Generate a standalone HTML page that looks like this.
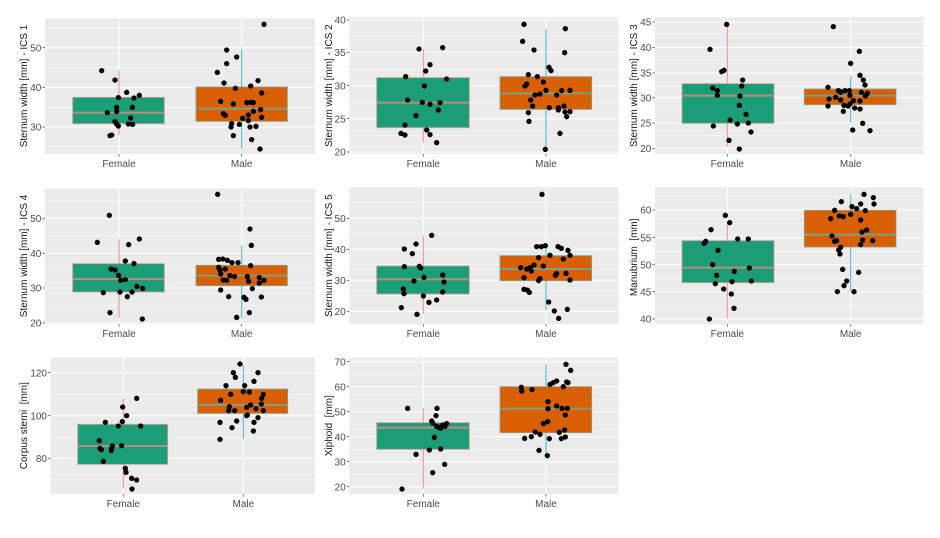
<!DOCTYPE html>
<html><head><meta charset="utf-8"><style>
html,body{margin:0;padding:0;background:#fff;}
svg{display:block;}
.bg{fill:#EBEBEB;}
.mj{stroke:#fff;stroke-width:3.3;}
.mn{stroke:#fff;stroke-width:1.5;}
.tk{stroke:#555;stroke-width:2.4;}
.tl{font-family:"Liberation Sans",sans-serif;font-size:30px;fill:#4D4D4D;}
.ti{font-family:"Liberation Sans",sans-serif;font-size:30px;fill:#1a1a1a;}
.wf{stroke:#EC8E86;stroke-width:3;}
.wm{stroke:#3DBCC6;stroke-width:3;}
.bf{fill:#1B9E77;stroke:#CFA08E;stroke-width:2.5;}
.bm{fill:#D95F02;stroke:#7FA58F;stroke-width:2.5;}
.mf{stroke:#B8907A;stroke-width:6;}
.mm{stroke:#7E9F80;stroke-width:6;}
circle{fill:#000;}
</style></head><body>
<svg width="940" height="538" viewBox="0 0 940 538" xmlns="http://www.w3.org/2000/svg">
<rect width="940" height="538" fill="#fff"/>

<!-- Panel 1 -->
<g transform="translate(0,0) scale(0.333333)">
<rect class="bg" x="135" y="55" width="810" height="407"/>
<line class="mn" x1="135" x2="945" y1="84" y2="84"/><line class="mn" x1="135" x2="945" y1="202.5" y2="202.5"/><line class="mn" x1="135" x2="945" y1="321.5" y2="321.5"/><line class="mn" x1="135" x2="945" y1="440.5" y2="440.5"/>
<line class="mj" x1="135" x2="945" y1="143" y2="143"/><line class="mj" x1="135" x2="945" y1="262" y2="262"/><line class="mj" x1="135" x2="945" y1="381" y2="381"/>
<line class="mj" x1="357" x2="357" y1="55" y2="462"/><line class="mj" x1="725" x2="725" y1="55" y2="462"/>
<line class="tk" x1="127" x2="135" y1="143" y2="143"/><line class="tk" x1="127" x2="135" y1="262" y2="262"/><line class="tk" x1="127" x2="135" y1="381" y2="381"/>
<line class="tk" x1="357" x2="357" y1="462" y2="470"/><line class="tk" x1="725" x2="725" y1="462" y2="470"/>
<text class="tl" x="124" y="154" text-anchor="end">50</text><text class="tl" x="124" y="273" text-anchor="end">40</text><text class="tl" x="124" y="392" text-anchor="end">30</text>
<text class="tl" x="357" y="501" text-anchor="middle">Female</text><text class="tl" x="725" y="501" text-anchor="middle">Male</text>
<text class="ti" transform="translate(81,258) rotate(-90)" text-anchor="middle">Sternum width [mm] - ICS 1</text>
<line class="wf" x1="357" x2="357" y1="212" y2="405"/>
<rect class="bf" x="218" y="292" width="275" height="79"/><line class="mf" x1="218" x2="493" y1="338" y2="338"/>
<line class="wm" x1="725" x2="725" y1="148" y2="447"/>
<rect class="bm" x="588" y="261" width="274" height="103"/><line class="mm" x1="588" x2="862" y1="326" y2="326"/>
<g>
<circle cx="305" cy="212" r="8"/><circle cx="345" cy="240" r="8"/><circle cx="355" cy="293" r="8"/><circle cx="380" cy="277" r="8"/><circle cx="418" cy="286" r="8"/><circle cx="402" cy="294" r="8"/><circle cx="322" cy="338" r="8"/><circle cx="350" cy="322" r="8"/><circle cx="350" cy="335" r="8"/><circle cx="397" cy="322" r="8"/><circle cx="392" cy="354" r="8"/><circle cx="345" cy="365" r="8"/><circle cx="350" cy="372" r="8"/><circle cx="355" cy="378" r="8"/><circle cx="385" cy="372" r="8"/><circle cx="398" cy="373" r="8"/><circle cx="335" cy="405" r="8"/><circle cx="330" cy="407" r="8"/>
<circle cx="792" cy="73" r="8"/><circle cx="680" cy="150" r="8"/><circle cx="710" cy="171" r="8"/><circle cx="680" cy="191" r="8"/><circle cx="652" cy="217" r="8"/><circle cx="672" cy="249" r="8"/><circle cx="774" cy="242" r="8"/><circle cx="706" cy="265" r="8"/><circle cx="752" cy="258" r="8"/><circle cx="785" cy="279" r="8"/><circle cx="662" cy="304" r="8"/><circle cx="700" cy="312" r="8"/><circle cx="740" cy="308" r="8"/><circle cx="752" cy="307" r="8"/><circle cx="760" cy="308" r="8"/><circle cx="670" cy="341" r="8"/><circle cx="676" cy="346" r="8"/><circle cx="760" cy="334" r="8"/><circle cx="745" cy="345" r="8"/><circle cx="728" cy="355" r="8"/><circle cx="782" cy="329" r="8"/><circle cx="785" cy="352" r="8"/><circle cx="745" cy="362" r="8"/><circle cx="695" cy="371" r="8"/><circle cx="718" cy="373" r="8"/><circle cx="693" cy="381" r="8"/><circle cx="750" cy="381" r="8"/><circle cx="768" cy="379" r="8"/><circle cx="700" cy="407" r="8"/><circle cx="755" cy="419" r="8"/><circle cx="780" cy="447" r="8"/>
</g>
</g>

<!-- Panel 2 -->
<g transform="translate(310,0) scale(0.333333)">
<rect class="bg" x="118" y="52" width="807" height="410"/>
<line class="mn" x1="118" x2="925" y1="108.5" y2="108.5"/><line class="mn" x1="118" x2="925" y1="207" y2="207"/><line class="mn" x1="118" x2="925" y1="306.5" y2="306.5"/><line class="mn" x1="118" x2="925" y1="406" y2="406"/>
<line class="mj" x1="118" x2="925" y1="60" y2="60"/><line class="mj" x1="118" x2="925" y1="157" y2="157"/><line class="mj" x1="118" x2="925" y1="257" y2="257"/><line class="mj" x1="118" x2="925" y1="356" y2="356"/><line class="mj" x1="118" x2="925" y1="456" y2="456"/>
<line class="mj" x1="340" x2="340" y1="52" y2="462"/><line class="mj" x1="708" x2="708" y1="52" y2="462"/>
<line class="tk" x1="110" x2="118" y1="60" y2="60"/><line class="tk" x1="110" x2="118" y1="157" y2="157"/><line class="tk" x1="110" x2="118" y1="257" y2="257"/><line class="tk" x1="110" x2="118" y1="356" y2="356"/><line class="tk" x1="110" x2="118" y1="456" y2="456"/>
<line class="tk" x1="340" x2="340" y1="462" y2="470"/><line class="tk" x1="708" x2="708" y1="462" y2="470"/>
<text class="tl" x="107" y="71" text-anchor="end">40</text><text class="tl" x="107" y="168" text-anchor="end">35</text><text class="tl" x="107" y="268" text-anchor="end">30</text><text class="tl" x="107" y="367" text-anchor="end">25</text><text class="tl" x="107" y="467" text-anchor="end">20</text>
<text class="tl" x="340" y="501" text-anchor="middle">Female</text><text class="tl" x="708" y="501" text-anchor="middle">Male</text>
<text class="ti" transform="translate(66,257) rotate(-90)" text-anchor="middle">Sternum width [mm] - ICS 2</text>
<line class="wf" x1="340" x2="340" y1="147" y2="428"/>
<rect class="bf" x="200" y="233" width="278" height="150"/><line class="mf" x1="200" x2="478" y1="308" y2="308"/>
<line class="wm" x1="708" x2="708" y1="88" y2="448"/>
<rect class="bm" x="570" y="230" width="275" height="98"/><line class="mm" x1="570" x2="845" y1="280" y2="280"/>
<circle cx="327" cy="147" r="8"/><circle cx="398" cy="143" r="8"/><circle cx="360" cy="194" r="8"/><circle cx="347" cy="213" r="8"/><circle cx="287" cy="230" r="8"/><circle cx="410" cy="237" r="8"/><circle cx="343" cy="258" r="8"/><circle cx="293" cy="300" r="8"/><circle cx="337" cy="307" r="8"/><circle cx="360" cy="313" r="8"/><circle cx="390" cy="308" r="8"/><circle cx="385" cy="330" r="8"/><circle cx="318" cy="347" r="8"/><circle cx="285" cy="375" r="8"/><circle cx="350" cy="390" r="8"/><circle cx="273" cy="400" r="8"/><circle cx="285" cy="405" r="8"/><circle cx="360" cy="404" r="8"/><circle cx="380" cy="428" r="8"/>
<circle cx="642" cy="73" r="8"/><circle cx="766" cy="86" r="8"/><circle cx="638" cy="124" r="8"/><circle cx="672" cy="150" r="8"/><circle cx="764" cy="158" r="8"/><circle cx="717" cy="202" r="8"/><circle cx="723" cy="212" r="8"/><circle cx="655" cy="224" r="8"/><circle cx="682" cy="230" r="8"/><circle cx="700" cy="246" r="8"/><circle cx="650" cy="252" r="8"/><circle cx="645" cy="258" r="8"/><circle cx="675" cy="285" r="8"/><circle cx="690" cy="282" r="8"/><circle cx="708" cy="271" r="8"/><circle cx="740" cy="285" r="8"/><circle cx="755" cy="272" r="8"/><circle cx="780" cy="271" r="8"/><circle cx="662" cy="300" r="8"/><circle cx="668" cy="318" r="8"/><circle cx="718" cy="323" r="8"/><circle cx="745" cy="323" r="8"/><circle cx="745" cy="330" r="8"/><circle cx="762" cy="318" r="8"/><circle cx="765" cy="336" r="8"/><circle cx="780" cy="335" r="8"/><circle cx="770" cy="350" r="8"/><circle cx="655" cy="338" r="8"/><circle cx="657" cy="364" r="8"/><circle cx="750" cy="400" r="8"/><circle cx="706" cy="448" r="8"/>
</g>

<!-- Panel 3 -->
<g transform="translate(620,0) scale(0.333333)">
<rect class="bg" x="105" y="52" width="805" height="410"/>
<line class="mn" x1="105" x2="910" y1="104" y2="104"/><line class="mn" x1="105" x2="910" y1="180.5" y2="180.5"/><line class="mn" x1="105" x2="910" y1="256" y2="256"/><line class="mn" x1="105" x2="910" y1="331" y2="331"/><line class="mn" x1="105" x2="910" y1="407" y2="407"/>
<line class="mj" x1="105" x2="910" y1="66" y2="66"/><line class="mj" x1="105" x2="910" y1="142" y2="142"/><line class="mj" x1="105" x2="910" y1="219" y2="219"/><line class="mj" x1="105" x2="910" y1="293" y2="293"/><line class="mj" x1="105" x2="910" y1="369" y2="369"/><line class="mj" x1="105" x2="910" y1="445" y2="445"/>
<line class="mj" x1="322" x2="322" y1="52" y2="462"/><line class="mj" x1="692" x2="692" y1="52" y2="462"/>
<line class="tk" x1="97" x2="105" y1="66" y2="66"/><line class="tk" x1="97" x2="105" y1="142" y2="142"/><line class="tk" x1="97" x2="105" y1="219" y2="219"/><line class="tk" x1="97" x2="105" y1="293" y2="293"/><line class="tk" x1="97" x2="105" y1="369" y2="369"/><line class="tk" x1="97" x2="105" y1="445" y2="445"/>
<line class="tk" x1="322" x2="322" y1="462" y2="470"/><line class="tk" x1="692" x2="692" y1="462" y2="470"/>
<text class="tl" x="94" y="77" text-anchor="end">45</text><text class="tl" x="94" y="153" text-anchor="end">40</text><text class="tl" x="94" y="230" text-anchor="end">35</text><text class="tl" x="94" y="304" text-anchor="end">30</text><text class="tl" x="94" y="380" text-anchor="end">25</text><text class="tl" x="94" y="456" text-anchor="end">20</text>
<text class="tl" x="322" y="501" text-anchor="middle">Female</text><text class="tl" x="692" y="501" text-anchor="middle">Male</text>
<text class="ti" transform="translate(51,257) rotate(-90)" text-anchor="middle">Sternum width [mm] - ICS 3</text>
<line class="wf" x1="322" x2="322" y1="75" y2="440"/>
<rect class="bf" x="186" y="251" width="276" height="119"/><line class="mf" x1="186" x2="462" y1="287" y2="287"/>
<line class="wm" x1="692" x2="692" y1="228" y2="368"/>
<rect class="bm" x="553" y="267" width="275" height="47"/><line class="mm" x1="553" x2="828" y1="287" y2="287"/>
<circle cx="320" cy="73" r="8"/><circle cx="270" cy="148" r="8"/><circle cx="312" cy="211" r="8"/><circle cx="305" cy="215" r="8"/><circle cx="368" cy="240" r="8"/><circle cx="365" cy="258" r="8"/><circle cx="278" cy="264" r="8"/><circle cx="292" cy="272" r="8"/><circle cx="292" cy="286" r="8"/><circle cx="360" cy="288" r="8"/><circle cx="358" cy="316" r="8"/><circle cx="378" cy="343" r="8"/><circle cx="330" cy="360" r="8"/><circle cx="352" cy="372" r="8"/><circle cx="385" cy="369" r="8"/><circle cx="280" cy="378" r="8"/><circle cx="393" cy="396" r="8"/><circle cx="327" cy="421" r="8"/><circle cx="358" cy="447" r="8"/>
<circle cx="640" cy="80" r="8"/><circle cx="718" cy="154" r="8"/><circle cx="692" cy="190" r="8"/><circle cx="720" cy="226" r="8"/><circle cx="730" cy="240" r="8"/><circle cx="735" cy="255" r="8"/><circle cx="624" cy="262" r="8"/><circle cx="655" cy="272" r="8"/><circle cx="662" cy="277" r="8"/><circle cx="675" cy="272" r="8"/><circle cx="688" cy="272" r="8"/><circle cx="690" cy="286" r="8"/><circle cx="742" cy="280" r="8"/><circle cx="736" cy="288" r="8"/><circle cx="724" cy="277" r="8"/><circle cx="647" cy="292" r="8"/><circle cx="627" cy="297" r="8"/><circle cx="662" cy="300" r="8"/><circle cx="700" cy="302" r="8"/><circle cx="720" cy="303" r="8"/><circle cx="672" cy="316" r="8"/><circle cx="690" cy="312" r="8"/><circle cx="684" cy="318" r="8"/><circle cx="670" cy="334" r="8"/><circle cx="704" cy="324" r="8"/><circle cx="720" cy="327" r="8"/><circle cx="698" cy="390" r="8"/><circle cx="728" cy="370" r="8"/><circle cx="750" cy="392" r="8"/><circle cx="624" cy="318" r="8"/>
</g>

<!-- Panel 4 -->
<g transform="translate(0,170) scale(0.333333)">
<rect class="bg" x="135" y="55" width="810" height="407"/>
<line class="mn" x1="135" x2="945" y1="93" y2="93"/><line class="mn" x1="135" x2="945" y1="197.5" y2="197.5"/><line class="mn" x1="135" x2="945" y1="302" y2="302"/><line class="mn" x1="135" x2="945" y1="406.5" y2="406.5"/>
<line class="mj" x1="135" x2="945" y1="145" y2="145"/><line class="mj" x1="135" x2="945" y1="250" y2="250"/><line class="mj" x1="135" x2="945" y1="354" y2="354"/><line class="mj" x1="135" x2="945" y1="459" y2="459"/>
<line class="mj" x1="357" x2="357" y1="55" y2="462"/><line class="mj" x1="725" x2="725" y1="55" y2="462"/>
<line class="tk" x1="127" x2="135" y1="145" y2="145"/><line class="tk" x1="127" x2="135" y1="250" y2="250"/><line class="tk" x1="127" x2="135" y1="354" y2="354"/><line class="tk" x1="127" x2="135" y1="459" y2="459"/>
<line class="tk" x1="357" x2="357" y1="462" y2="470"/><line class="tk" x1="725" x2="725" y1="462" y2="470"/>
<text class="tl" x="124" y="156" text-anchor="end">50</text><text class="tl" x="124" y="261" text-anchor="end">40</text><text class="tl" x="124" y="365" text-anchor="end">30</text><text class="tl" x="124" y="470" text-anchor="end">20</text>
<text class="tl" x="357" y="501" text-anchor="middle">Female</text><text class="tl" x="725" y="501" text-anchor="middle">Male</text>
<text class="ti" transform="translate(81,258) rotate(-90)" text-anchor="middle">Sternum width [mm] - ICS 4</text>
<line class="wf" x1="357" x2="357" y1="208" y2="443"/>
<rect class="bf" x="218" y="281" width="275" height="85"/><line class="mf" x1="218" x2="493" y1="327" y2="327"/>
<line class="wm" x1="725" x2="725" y1="226" y2="445"/>
<rect class="bm" x="588" y="286" width="274" height="61"/><line class="mm" x1="588" x2="862" y1="317" y2="317"/>
<circle cx="328" cy="136" r="8"/><circle cx="292" cy="217" r="8"/><circle cx="418" cy="207" r="8"/><circle cx="386" cy="224" r="8"/><circle cx="376" cy="273" r="8"/><circle cx="402" cy="281" r="8"/><circle cx="333" cy="297" r="8"/><circle cx="345" cy="300" r="8"/><circle cx="356" cy="316" r="8"/><circle cx="362" cy="331" r="8"/><circle cx="376" cy="329" r="8"/><circle cx="411" cy="349" r="8"/><circle cx="428" cy="355" r="8"/><circle cx="310" cy="368" r="8"/><circle cx="360" cy="366" r="8"/><circle cx="382" cy="380" r="8"/><circle cx="396" cy="366" r="8"/><circle cx="330" cy="428" r="8"/><circle cx="427" cy="447" r="8"/>
<circle cx="653" cy="73" r="8"/><circle cx="750" cy="177" r="8"/><circle cx="754" cy="226" r="8"/><circle cx="656" cy="268" r="8"/><circle cx="668" cy="267" r="8"/><circle cx="682" cy="271" r="8"/><circle cx="696" cy="278" r="8"/><circle cx="714" cy="278" r="8"/><circle cx="752" cy="287" r="8"/><circle cx="656" cy="292" r="8"/><circle cx="660" cy="300" r="8"/><circle cx="676" cy="297" r="8"/><circle cx="662" cy="312" r="8"/><circle cx="690" cy="317" r="8"/><circle cx="704" cy="320" r="8"/><circle cx="670" cy="330" r="8"/><circle cx="680" cy="331" r="8"/><circle cx="742" cy="320" r="8"/><circle cx="746" cy="334" r="8"/><circle cx="778" cy="323" r="8"/><circle cx="792" cy="331" r="8"/><circle cx="778" cy="339" r="8"/><circle cx="757" cy="356" r="8"/><circle cx="662" cy="360" r="8"/><circle cx="686" cy="380" r="8"/><circle cx="732" cy="382" r="8"/><circle cx="738" cy="388" r="8"/><circle cx="784" cy="381" r="8"/><circle cx="748" cy="428" r="8"/><circle cx="710" cy="442" r="8"/>
</g>

<!-- Panel 5 -->
<g transform="translate(310,170) scale(0.333333)">
<rect class="bg" x="118" y="52" width="807" height="410"/>
<line class="mn" x1="118" x2="925" y1="98.5" y2="98.5"/><line class="mn" x1="118" x2="925" y1="191.5" y2="191.5"/><line class="mn" x1="118" x2="925" y1="284.5" y2="284.5"/><line class="mn" x1="118" x2="925" y1="377.5" y2="377.5"/>
<line class="mj" x1="118" x2="925" y1="145" y2="145"/><line class="mj" x1="118" x2="925" y1="238" y2="238"/><line class="mj" x1="118" x2="925" y1="331" y2="331"/><line class="mj" x1="118" x2="925" y1="424" y2="424"/>
<line class="mj" x1="340" x2="340" y1="52" y2="462"/><line class="mj" x1="708" x2="708" y1="52" y2="462"/>
<line class="tk" x1="110" x2="118" y1="145" y2="145"/><line class="tk" x1="110" x2="118" y1="238" y2="238"/><line class="tk" x1="110" x2="118" y1="331" y2="331"/><line class="tk" x1="110" x2="118" y1="424" y2="424"/>
<line class="tk" x1="340" x2="340" y1="462" y2="470"/><line class="tk" x1="708" x2="708" y1="462" y2="470"/>
<text class="tl" x="107" y="156" text-anchor="end">50</text><text class="tl" x="107" y="249" text-anchor="end">40</text><text class="tl" x="107" y="342" text-anchor="end">30</text><text class="tl" x="107" y="435" text-anchor="end">20</text>
<text class="tl" x="340" y="501" text-anchor="middle">Female</text><text class="tl" x="708" y="501" text-anchor="middle">Male</text>
<text class="ti" transform="translate(66,257) rotate(-90)" text-anchor="middle">Sternum width [mm] - ICS 5</text>
<line class="wf" x1="340" x2="340" y1="197" y2="432"/>
<rect class="bf" x="200" y="288" width="278" height="84"/><line class="mf" x1="200" x2="478" y1="328" y2="328"/>
<line class="wm" x1="708" x2="708" y1="230" y2="420"/>
<rect class="bm" x="570" y="257" width="275" height="75"/><line class="mm" x1="570" x2="845" y1="297" y2="297"/>
<circle cx="365" cy="196" r="8"/><circle cx="318" cy="222" r="8"/><circle cx="283" cy="237" r="8"/><circle cx="307" cy="251" r="8"/><circle cx="283" cy="290" r="8"/><circle cx="328" cy="289" r="8"/><circle cx="332" cy="294" r="8"/><circle cx="342" cy="322" r="8"/><circle cx="312" cy="333" r="8"/><circle cx="398" cy="315" r="8"/><circle cx="402" cy="336" r="8"/><circle cx="280" cy="357" r="8"/><circle cx="282" cy="371" r="8"/><circle cx="398" cy="366" r="8"/><circle cx="340" cy="378" r="8"/><circle cx="380" cy="390" r="8"/><circle cx="357" cy="397" r="8"/><circle cx="274" cy="413" r="8"/><circle cx="321" cy="433" r="8"/>
<circle cx="696" cy="73" r="8"/><circle cx="680" cy="230" r="8"/><circle cx="694" cy="230" r="8"/><circle cx="706" cy="227" r="8"/><circle cx="744" cy="230" r="8"/><circle cx="754" cy="235" r="8"/><circle cx="774" cy="241" r="8"/><circle cx="720" cy="256" r="8"/><circle cx="686" cy="263" r="8"/><circle cx="760" cy="267" r="8"/><circle cx="780" cy="256" r="8"/><circle cx="632" cy="293" r="8"/><circle cx="650" cy="297" r="8"/><circle cx="660" cy="293" r="8"/><circle cx="664" cy="303" r="8"/><circle cx="672" cy="285" r="8"/><circle cx="700" cy="288" r="8"/><circle cx="642" cy="323" r="8"/><circle cx="690" cy="326" r="8"/><circle cx="686" cy="332" r="8"/><circle cx="740" cy="311" r="8"/><circle cx="736" cy="316" r="8"/><circle cx="768" cy="310" r="8"/><circle cx="780" cy="330" r="8"/><circle cx="642" cy="358" r="8"/><circle cx="652" cy="360" r="8"/><circle cx="658" cy="367" r="8"/><circle cx="716" cy="396" r="8"/><circle cx="733" cy="423" r="8"/><circle cx="772" cy="418" r="8"/><circle cx="746" cy="445" r="8"/>
</g>

<!-- Panel 6 -->
<g transform="translate(620,170) scale(0.333333)">
<rect class="bg" x="105" y="52" width="805" height="410"/>
<line class="mn" x1="105" x2="910" y1="79" y2="79"/><line class="mn" x1="105" x2="910" y1="161.5" y2="161.5"/><line class="mn" x1="105" x2="910" y1="243.5" y2="243.5"/><line class="mn" x1="105" x2="910" y1="324.5" y2="324.5"/><line class="mn" x1="105" x2="910" y1="406" y2="406"/>
<line class="mj" x1="105" x2="910" y1="120" y2="120"/><line class="mj" x1="105" x2="910" y1="203" y2="203"/><line class="mj" x1="105" x2="910" y1="284" y2="284"/><line class="mj" x1="105" x2="910" y1="365" y2="365"/><line class="mj" x1="105" x2="910" y1="447" y2="447"/>
<line class="mj" x1="322" x2="322" y1="52" y2="462"/><line class="mj" x1="692" x2="692" y1="52" y2="462"/>
<line class="tk" x1="97" x2="105" y1="120" y2="120"/><line class="tk" x1="97" x2="105" y1="203" y2="203"/><line class="tk" x1="97" x2="105" y1="284" y2="284"/><line class="tk" x1="97" x2="105" y1="365" y2="365"/><line class="tk" x1="97" x2="105" y1="447" y2="447"/>
<line class="tk" x1="322" x2="322" y1="462" y2="470"/><line class="tk" x1="692" x2="692" y1="462" y2="470"/>
<text class="tl" x="94" y="131" text-anchor="end">60</text><text class="tl" x="94" y="214" text-anchor="end">55</text><text class="tl" x="94" y="295" text-anchor="end">50</text><text class="tl" x="94" y="376" text-anchor="end">45</text><text class="tl" x="94" y="458" text-anchor="end">40</text>
<text class="tl" x="322" y="501" text-anchor="middle">Female</text><text class="tl" x="692" y="501" text-anchor="middle">Male</text>
<text class="ti" transform="translate(51,262) rotate(-90)" text-anchor="middle" xml:space="preserve">Manubrium  [mm]</text>
<line class="wf" x1="322" x2="322" y1="160" y2="446"/>
<rect class="bf" x="186" y="212" width="276" height="126"/><line class="mf" x1="186" x2="462" y1="293" y2="293"/>
<line class="wm" x1="692" x2="692" y1="73" y2="365"/>
<rect class="bm" x="553" y="121" width="275" height="110"/><line class="mm" x1="553" x2="828" y1="194" y2="194"/>
<circle cx="316" cy="136" r="8"/><circle cx="329" cy="158" r="8"/><circle cx="273" cy="179" r="8"/><circle cx="257" cy="214" r="8"/><circle cx="252" cy="220" r="8"/><circle cx="294" cy="241" r="8"/><circle cx="353" cy="207" r="8"/><circle cx="385" cy="207" r="8"/><circle cx="278" cy="284" r="8"/><circle cx="388" cy="294" r="8"/><circle cx="290" cy="316" r="8"/><circle cx="343" cy="304" r="8"/><circle cx="286" cy="341" r="8"/><circle cx="336" cy="335" r="8"/><circle cx="394" cy="333" r="8"/><circle cx="311" cy="357" r="8"/><circle cx="334" cy="372" r="8"/><circle cx="342" cy="415" r="8"/><circle cx="268" cy="447" r="8"/>
<circle cx="732" cy="73" r="8"/><circle cx="760" cy="83" r="8"/><circle cx="762" cy="102" r="8"/><circle cx="664" cy="95" r="8"/><circle cx="696" cy="110" r="8"/><circle cx="722" cy="102" r="8"/><circle cx="710" cy="116" r="8"/><circle cx="736" cy="122" r="8"/><circle cx="644" cy="121" r="8"/><circle cx="692" cy="133" r="8"/><circle cx="658" cy="138" r="8"/><circle cx="670" cy="140" r="8"/><circle cx="632" cy="146" r="8"/><circle cx="722" cy="150" r="8"/><circle cx="740" cy="180" r="8"/><circle cx="726" cy="186" r="8"/><circle cx="636" cy="198" r="8"/><circle cx="650" cy="212" r="8"/><circle cx="644" cy="214" r="8"/><circle cx="728" cy="210" r="8"/><circle cx="758" cy="212" r="8"/><circle cx="722" cy="224" r="8"/><circle cx="662" cy="232" r="8"/><circle cx="656" cy="240" r="8"/><circle cx="660" cy="252" r="8"/><circle cx="668" cy="298" r="8"/><circle cx="716" cy="307" r="8"/><circle cx="680" cy="333" r="8"/><circle cx="672" cy="347" r="8"/><circle cx="652" cy="365" r="8"/><circle cx="702" cy="365" r="8"/>
</g>

<!-- Panel 7 -->
<g transform="translate(0,345) scale(0.333333)">
<rect class="bg" x="152" y="38" width="793" height="409"/>
<line class="mn" x1="152" x2="945" y1="147.5" y2="147.5"/><line class="mn" x1="152" x2="945" y1="276" y2="276"/><line class="mn" x1="152" x2="945" y1="404" y2="404"/>
<line class="mj" x1="152" x2="945" y1="83" y2="83"/><line class="mj" x1="152" x2="945" y1="212" y2="212"/><line class="mj" x1="152" x2="945" y1="340" y2="340"/>
<line class="mj" x1="370" x2="370" y1="38" y2="447"/><line class="mj" x1="730" x2="730" y1="38" y2="447"/>
<line class="tk" x1="144" x2="152" y1="83" y2="83"/><line class="tk" x1="144" x2="152" y1="212" y2="212"/><line class="tk" x1="144" x2="152" y1="340" y2="340"/>
<line class="tk" x1="370" x2="370" y1="447" y2="455"/><line class="tk" x1="730" x2="730" y1="447" y2="455"/>
<text class="tl" x="141" y="94" text-anchor="end">120</text><text class="tl" x="141" y="223" text-anchor="end">100</text><text class="tl" x="141" y="351" text-anchor="end">80</text>
<text class="tl" x="370" y="486" text-anchor="middle">Female</text><text class="tl" x="730" y="486" text-anchor="middle">Male</text>
<text class="ti" transform="translate(81,242) rotate(-90)" text-anchor="middle" xml:space="preserve">Corpus sterni  [mm]</text>
<line class="wf" x1="370" x2="370" y1="160" y2="430"/>
<rect class="bf" x="233" y="238" width="270" height="120"/><line class="mf" x1="233" x2="503" y1="303" y2="303"/>
<line class="wm" x1="730" x2="730" y1="60" y2="282"/>
<rect class="bm" x="593" y="132" width="270" height="73"/><line class="mm" x1="593" x2="863" y1="180" y2="180"/>
<circle cx="410" cy="160" r="8"/><circle cx="368" cy="186" r="8"/><circle cx="380" cy="212" r="8"/><circle cx="316" cy="232" r="8"/><circle cx="367" cy="230" r="8"/><circle cx="355" cy="243" r="8"/><circle cx="422" cy="243" r="8"/><circle cx="298" cy="287" r="8"/><circle cx="337" cy="303" r="8"/><circle cx="300" cy="310" r="8"/><circle cx="335" cy="311" r="8"/><circle cx="365" cy="302" r="8"/><circle cx="304" cy="314" r="8"/><circle cx="334" cy="317" r="8"/><circle cx="310" cy="349" r="8"/><circle cx="376" cy="370" r="8"/><circle cx="378" cy="382" r="8"/><circle cx="395" cy="400" r="8"/><circle cx="410" cy="405" r="8"/><circle cx="396" cy="432" r="8"/>
<circle cx="720" cy="57" r="8"/><circle cx="700" cy="83" r="8"/><circle cx="706" cy="97" r="8"/><circle cx="774" cy="83" r="8"/><circle cx="762" cy="109" r="8"/><circle cx="678" cy="122" r="8"/><circle cx="734" cy="122" r="8"/><circle cx="692" cy="148" r="8"/><circle cx="730" cy="140" r="8"/><circle cx="748" cy="141" r="8"/><circle cx="790" cy="148" r="8"/><circle cx="785" cy="160" r="8"/><circle cx="662" cy="166" r="8"/><circle cx="688" cy="185" r="8"/><circle cx="686" cy="197" r="8"/><circle cx="704" cy="197" r="8"/><circle cx="740" cy="187" r="8"/><circle cx="752" cy="180" r="8"/><circle cx="768" cy="191" r="8"/><circle cx="784" cy="177" r="8"/><circle cx="790" cy="197" r="8"/><circle cx="740" cy="212" r="8"/><circle cx="774" cy="218" r="8"/><circle cx="710" cy="228" r="8"/><circle cx="696" cy="248" r="8"/><circle cx="660" cy="232" r="8"/><circle cx="762" cy="232" r="8"/><circle cx="760" cy="258" r="8"/><circle cx="660" cy="283" r="8"/><circle cx="742" cy="210" r="8"/>
</g>

<!-- Panel 8 -->
<g transform="translate(310,345) scale(0.333333)">
<rect class="bg" x="118" y="38" width="807" height="409"/>
<line class="mn" x1="118" x2="925" y1="87.5" y2="87.5"/><line class="mn" x1="118" x2="925" y1="162.5" y2="162.5"/><line class="mn" x1="118" x2="925" y1="237.5" y2="237.5"/><line class="mn" x1="118" x2="925" y1="312.5" y2="312.5"/><line class="mn" x1="118" x2="925" y1="387.5" y2="387.5"/>
<line class="mj" x1="118" x2="925" y1="50" y2="50"/><line class="mj" x1="118" x2="925" y1="125" y2="125"/><line class="mj" x1="118" x2="925" y1="200" y2="200"/><line class="mj" x1="118" x2="925" y1="275" y2="275"/><line class="mj" x1="118" x2="925" y1="350" y2="350"/><line class="mj" x1="118" x2="925" y1="425" y2="425"/>
<line class="mj" x1="340" x2="340" y1="38" y2="447"/><line class="mj" x1="708" x2="708" y1="38" y2="447"/>
<line class="tk" x1="110" x2="118" y1="50" y2="50"/><line class="tk" x1="110" x2="118" y1="125" y2="125"/><line class="tk" x1="110" x2="118" y1="200" y2="200"/><line class="tk" x1="110" x2="118" y1="275" y2="275"/><line class="tk" x1="110" x2="118" y1="350" y2="350"/><line class="tk" x1="110" x2="118" y1="425" y2="425"/>
<line class="tk" x1="340" x2="340" y1="447" y2="455"/><line class="tk" x1="708" x2="708" y1="447" y2="455"/>
<text class="tl" x="107" y="61" text-anchor="end">70</text><text class="tl" x="107" y="136" text-anchor="end">60</text><text class="tl" x="107" y="211" text-anchor="end">50</text><text class="tl" x="107" y="286" text-anchor="end">40</text><text class="tl" x="107" y="361" text-anchor="end">30</text><text class="tl" x="107" y="436" text-anchor="end">20</text>
<text class="tl" x="340" y="486" text-anchor="middle">Female</text><text class="tl" x="708" y="486" text-anchor="middle">Male</text>
<text class="ti" transform="translate(66,242) rotate(-90)" text-anchor="middle" xml:space="preserve">Xiphoid  [mm]</text>
<line class="wf" x1="340" x2="340" y1="190" y2="430"/>
<rect class="bf" x="200" y="233" width="278" height="80"/><line class="mf" x1="200" x2="478" y1="248" y2="248"/>
<line class="wm" x1="708" x2="708" y1="58" y2="325"/>
<rect class="bm" x="570" y="125" width="275" height="138"/><line class="mm" x1="570" x2="845" y1="191" y2="191"/>
<circle cx="293" cy="190" r="8"/><circle cx="381" cy="190" r="8"/><circle cx="378" cy="212" r="8"/><circle cx="365" cy="228" r="8"/><circle cx="368" cy="234" r="8"/><circle cx="398" cy="240" r="8"/><circle cx="380" cy="244" r="8"/><circle cx="392" cy="250" r="8"/><circle cx="405" cy="244" r="8"/><circle cx="386" cy="247" r="8"/><circle cx="410" cy="236" r="8"/><circle cx="373" cy="277" r="8"/><circle cx="358" cy="315" r="8"/><circle cx="392" cy="312" r="8"/><circle cx="318" cy="328" r="8"/><circle cx="404" cy="358" r="8"/><circle cx="368" cy="383" r="8"/><circle cx="276" cy="432" r="8"/>
<circle cx="768" cy="58" r="8"/><circle cx="782" cy="76" r="8"/><circle cx="740" cy="108" r="8"/><circle cx="730" cy="113" r="8"/><circle cx="720" cy="118" r="8"/><circle cx="770" cy="111" r="8"/><circle cx="774" cy="113" r="8"/><circle cx="760" cy="125" r="8"/><circle cx="634" cy="127" r="8"/><circle cx="635" cy="138" r="8"/><circle cx="666" cy="134" r="8"/><circle cx="714" cy="170" r="8"/><circle cx="740" cy="183" r="8"/><circle cx="756" cy="190" r="8"/><circle cx="714" cy="191" r="8"/><circle cx="772" cy="190" r="8"/><circle cx="766" cy="210" r="8"/><circle cx="713" cy="230" r="8"/><circle cx="700" cy="236" r="8"/><circle cx="676" cy="261" r="8"/><circle cx="690" cy="268" r="8"/><circle cx="664" cy="275" r="8"/><circle cx="644" cy="280" r="8"/><circle cx="718" cy="281" r="8"/><circle cx="748" cy="262" r="8"/><circle cx="764" cy="255" r="8"/><circle cx="754" cy="281" r="8"/><circle cx="766" cy="276" r="8"/><circle cx="687" cy="316" r="8"/><circle cx="712" cy="332" r="8"/>
</g>
</svg>
</body></html>
